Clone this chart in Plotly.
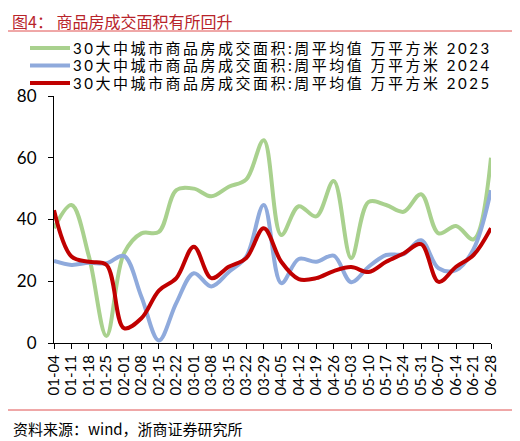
import plotly.graph_objects as go

# week labels (month-day)
weeks = ['01-04', '01-11', '01-18', '01-25', '02-01', '02-08', '02-15', '02-22',
         '03-01', '03-08', '03-15', '03-22', '03-29', '04-05', '04-12', '04-19',
         '04-26', '05-03', '05-10', '05-17', '05-24', '05-31', '06-07', '06-14',
         '06-21', '06-28']

# weekly average transaction area, 10k sqm
area_2023 = [37.2, 44.7, 28.0, 2.3, 29.0, 35.5, 36.0, 49.5, 50.0, 47.5, 50.6, 53.0, 65.7,
             35.0, 44.3, 41.0, 52.5, 27.5, 45.7, 44.7, 42.5, 48.2, 35.5, 37.9, 33.6, 60.0]
area_2024 = [26.6, 25.3, 26.0, 25.8, 28.2, 15.0, 0.8, 13.0, 22.6, 18.3, 23.0, 28.0, 44.7,
             19.4, 27.2, 26.3, 28.3, 19.7, 24.7, 28.5, 28.8, 33.3, 24.2, 23.6, 30.4, 49.5]
area_2025 = [43.0, 28.0, 26.3, 25.3, 4.8, 8.0, 17.0, 21.0, 31.2, 21.0, 24.7, 27.5, 37.2,
             26.3, 20.7, 21.0, 23.3, 24.6, 23.0, 26.3, 29.0, 32.0, 19.8, 24.7, 28.5, 37.2]

legend_name = '30大中城市商品房成交面积:周平均值 万平方米 '
series = [
    (area_2023, '2023', '#A9D18E'),
    (area_2024, '2024', '#8FAADC'),
    (area_2025, '2025', '#C00000'),
]

# the page body has an 8px margin, so the figure is drawn 8px smaller
# and everything below is given in page pixels
OFF = 8
W, H = 520 - OFF, 441 - OFF
PLOT_L, PLOT_R, PLOT_T, PLOT_B = 54, 491, 96, 343
L, R, T, B = PLOT_L - OFF, 520 - PLOT_R, PLOT_T - OFF, 441 - PLOT_B
pw, ph = PLOT_R - PLOT_L, PLOT_B - PLOT_T


# page pixel -> paper coords
def px(x):
    return (x - PLOT_L) / pw


def py(y):
    return (PLOT_B - y) / ph


cjk = 'Noto Sans CJK SC'
num_font = 'Lato, ' + cjk

fig = go.Figure()
for vals, yr, col in series:
    fig.add_trace(go.Scatter(
        x=weeks, y=vals, mode='lines', name=legend_name + yr,
        line=dict(color=col, width=4, shape='spline', smoothing=1.0),
        showlegend=False
    ))

shapes = []
annotations = []

# legend drawn by hand so rows sit tight like the original
for k, (vals, yr, col) in enumerate(series):
    yy = 48 + k * 17.5
    shapes.append(dict(type='line', xref='paper', yref='paper',
                       x0=px(30), x1=px(70), y0=py(yy), y1=py(yy),
                       line=dict(color=col, width=4)))
    annotations.append(dict(xref='paper', yref='paper', x=px(72), y=py(yy),
                            xanchor='left', yanchor='middle', showarrow=False,
                            borderpad=0,
                            text='<span style="letter-spacing:2.5px">' + legend_name + yr + '</span>',
                            font=dict(family=num_font, size=15, color='#000000')))

# title, separators, source
shapes.append(dict(type='line', xref='paper', yref='paper', x0=px(OFF), x1=px(513),
                   y0=py(31), y1=py(31), line=dict(color='#E05050', width=1)))
shapes.append(dict(type='line', xref='paper', yref='paper', x0=px(OFF), x1=px(513),
                   y0=py(410), y1=py(410), line=dict(color='#E05050', width=1)))
annotations.append(dict(xref='paper', yref='paper', x=px(11), y=py(20.5),
                        xanchor='left', yanchor='middle', showarrow=False,
                        borderpad=0,
                        text='图4： 商品房成交面积有所回升',
                        font=dict(family=cjk, size=16, color='#B8232A')))
annotations.append(dict(xref='paper', yref='paper', x=px(11), y=py(428),
                        xanchor='left', yanchor='middle', showarrow=False,
                        text='资料来源：wind，浙商证券研究所',
                        font=dict(family=cjk, size=15, color='#000000')))

fig.update_layout(
    width=W, height=H,
    margin=dict(l=L, r=R, t=T, b=B, autoexpand=False),
    paper_bgcolor='white', plot_bgcolor='white',
    shapes=shapes, annotations=annotations,
    xaxis=dict(type='category', range=[0, len(weeks) - 1],
               tickmode='array', tickvals=weeks, ticktext=weeks,
               showline=True, linecolor='black', linewidth=1,
               ticks='outside', ticklen=5, tickcolor='black',
               tickangle=-90, showgrid=False, zeroline=False,
               tickfont=dict(family=num_font, size=15, color='black')),
    yaxis=dict(range=[0, 80], dtick=20, showline=True, linecolor='black', linewidth=1,
               ticks='outside', ticklen=5, tickcolor='black', ticklabelstandoff=8,
               showgrid=False, zeroline=False,
               tickfont=dict(family=num_font, size=17, color='black')),
)

fig.write_html("out.html")
